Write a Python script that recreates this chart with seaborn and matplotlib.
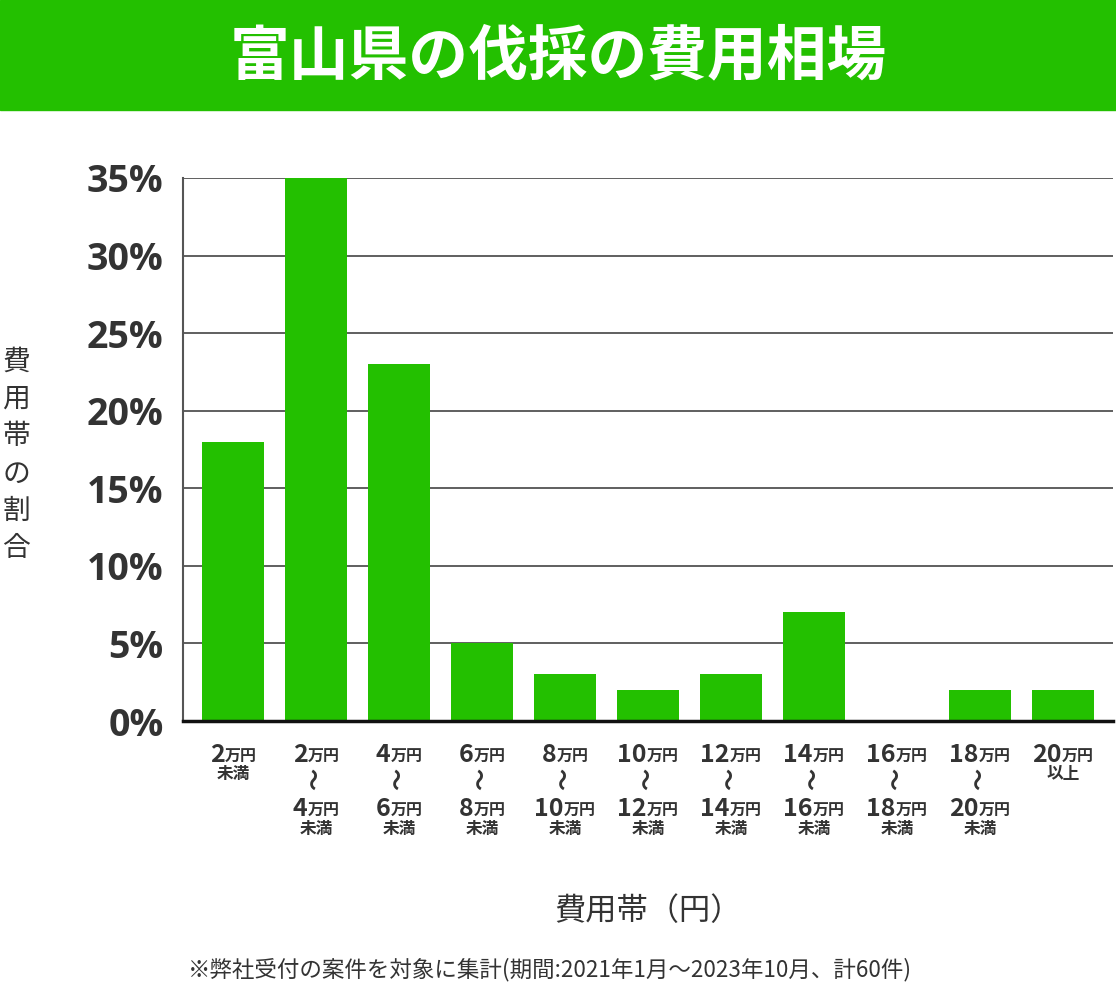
import matplotlib
matplotlib.use("Agg")
import matplotlib.pyplot as plt
import seaborn as sns
import pandas as pd
import numpy as np

# ---- data ----
lower = ["2", "2", "4", "6", "8", "10", "12", "14", "16", "18", "20"]
upper = [None, "4", "6", "8", "10", "12", "14", "16", "18", "20", None]
suffix = ["未満", "未満", "未満", "未満", "未満", "未満", "未満", "未満", "未満", "未満", "以上"]
categories = [f"{l}万円〜{u}万円未満" if u else f"{l}万円{s}" for l, u, s in zip(lower, upper, suffix)]
values = [18, 35, 23, 5, 3, 2, 3, 7, 0, 2, 2]
yticks = [0, 5, 10, 15, 20, 25, 30, 35]
ytick_labels = [f"{v}%" for v in yticks]

title = "富山県の伐採の費用相場"
ylabel = "費用帯の割合"
xlabel = "費用帯（円）"
note = "※弊社受付の案件を対象に集計(期間:2021年1月～2023年10月、計60件)"

GREEN = "#23c000"
DARK = "#333333"

sns.set_theme(style="white")
plt.rcParams['font.family'] = ['Noto Sans CJK JP', 'DejaVu Sans']

W, H = 1116, 989
fig = plt.figure(figsize=(W / 100, H / 100), dpi=100)

# banner
fig.patches.append(plt.Rectangle((0, 1 - 110 / H), 1, 110 / H, transform=fig.transFigure,
                                 color=GREEN, zorder=0))
fig.text(0.5, 1 - 57 / H, title, ha="center", va="center", color="white",
         fontsize=43, fontweight="bold")

# axes
left, right, top, bottom = 183, 1113, 178, 721
ax = fig.add_axes([left / W, 1 - bottom / H, (right - left) / W, (bottom - top) / H])
df = pd.DataFrame({"cat": categories, "val": values})
sns.barplot(data=df, x="cat", y="val", color=GREEN, saturation=1, width=0.747, ax=ax, zorder=3)
for p in ax.patches:
    p.set_edgecolor("none")
ax.set_xlim(-50 / 83, 10 + 50 / 83)
ax.set_ylim(0, 35)
ax.set_yticks(yticks)
ax.set_yticklabels(ytick_labels, fontsize=27, fontweight="bold", color=DARK,
                   family=["Open Sans", "DejaVu Sans"])
ax.tick_params(axis="y", length=0, pad=14)
ax.tick_params(axis="x", length=0)
ax.set_xticklabels([])
ax.set_xlabel("")
ax.set_ylabel("")
for y in yticks[1:]:
    ax.axhline(y, color="#444444", lw=1.2, zorder=1)
for s in ["top", "right"]:
    ax.spines[s].set_visible(False)
ax.spines["left"].set_color("#555555")
ax.spines["left"].set_linewidth(1.5)
ax.spines["bottom"].set_color("#111111")
ax.spines["bottom"].set_linewidth(2.5)
ax.spines["bottom"].set_zorder(5)

# x tick labels (multi-size text)
renderer = fig.canvas.get_renderer()
trans = ax.get_xaxis_transform()
NUM_FS, UNIT_FS, SUB_FS = 18, 11.5, 12

def amount(x, ypix, num):
    # number (big, bold) followed by 万円 (small, bold), centred at data x
    t1 = ax.text(x, 0, num, transform=trans, ha="left", va="baseline",
                 fontsize=NUM_FS, fontweight="bold", color=DARK)
    t2 = ax.text(x, 0, "万円", transform=trans, ha="left", va="baseline",
                 fontsize=UNIT_FS, fontweight="bold", color=DARK)
    w1 = t1.get_window_extent(renderer).width
    w2 = t2.get_window_extent(renderer).width
    total = w1 + w2
    xpix = ax.transData.transform((x, 0))[0]
    start = xpix - total / 2
    inv = fig.transFigure.inverted()
    for t, x0 in ((t1, start), (t2, start + w1)):
        t.remove()
        fx, fy = inv.transform((x0, H - ypix))
        fig.text(fx, fy, t.get_text(), ha="left", va="baseline",
                 fontsize=t.get_fontsize(), fontweight="bold", color=DARK)

def centred(x, ypix, s, fs, rot=0):
    xpix = ax.transData.transform((x, 0))[0]
    fig.text(xpix / W, 1 - ypix / H, s, ha="center", va="center",
             fontsize=fs, fontweight="bold", color=DARK, rotation=rot)

for i, (l, u, s) in enumerate(zip(lower, upper, suffix)):
    amount(i, 762, l)
    if u is None:
        centred(i, 774, s, SUB_FS)
    else:
        centred(i, 779, "〜", 16, rot=90)
        amount(i, 816, u)
        centred(i, 829, s, SUB_FS)

# axis titles
fig.text(16 / W, 1 - 455 / H, "\n".join(ylabel), ha="center", va="center",
         fontsize=20, color=DARK, linespacing=1.32)
fig.text(648 / W, 1 - 911 / H, xlabel, ha="center", va="center", fontsize=22.5, color=DARK)
fig.text(550 / W, 1 - 970 / H, note, ha="center", va="center", fontsize=16.2, color=DARK)

fig.savefig("out.png", dpi=100, facecolor="white")
